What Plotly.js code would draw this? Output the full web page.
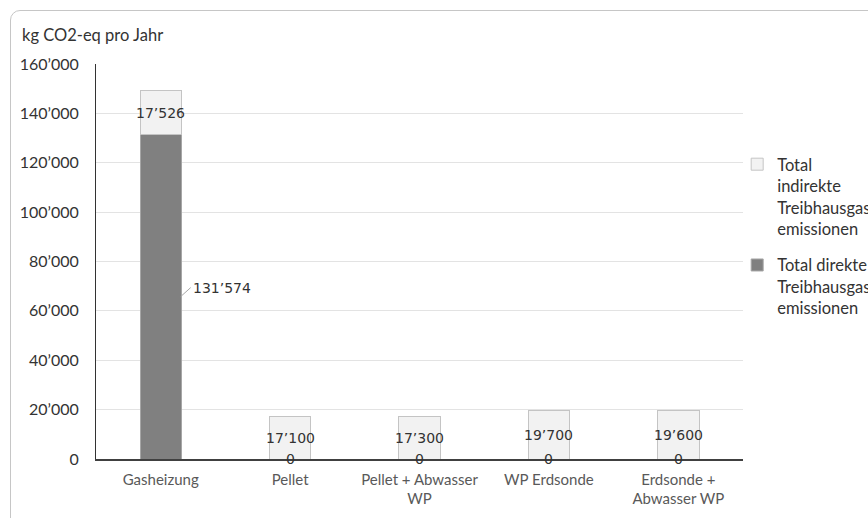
<!DOCTYPE html>
<html><head><meta charset="utf-8">
<script src="https://cdn.plot.ly/plotly-3.0.1.min.js"></script>
<style>
html,body{margin:0;padding:0;overflow:hidden;background:#fff;width:868px;height:518px;}
#frame{position:absolute;left:10px;top:10px;width:900px;height:540px;border:1px solid #c6c6c6;border-radius:10px;}
#chart{position:absolute;left:0;top:0;width:960px;height:518px;}
</style></head>
<body>
<div id="frame"></div>
<div id="chart"></div>
<script>
const categories = ["Gasheizung", "Pellet", "Pellet + Abwasser<br>WP", "WP Erdsonde", "Erdsonde +<br>Abwasser WP"];
const direktValues = [131574, 0, 0, 0, 0];
const indirektValues = [17526, 17100, 17300, 19700, 19600];
const seriesNames = ["Total direkte<br>Treibhausgas-<br>emissionen", "Total<br>indirekte<br>Treibhausgas-<br>emissionen"];
const yTicks = [0, 20000, 40000, 60000, 80000, 100000, 120000, 140000, 160000];
const yTitle = "kg CO2-eq pro Jahr";

function fmt(v){ return String(v).replace(/\B(?=(\d{3})+(?!\d))/g, "\u2019"); }

const traces = [
  {type:"bar", name:seriesNames[0], legendgroup:"d", legendrank:2, x:categories, y:direktValues,
   marker:{color:"#808080", line:{color:"#a6a6a6", width:1}}, hoverinfo:"none"},
  {type:"bar", name:seriesNames[1], legendgroup:"i", legendrank:1, x:categories, y:indirektValues,
   marker:{color:"#f2f2f2", line:{color:"#c4c4c4", width:1}}, hoverinfo:"none"}
];

const labelFont = {family:"DejaVu Sans", size:14, color:"#333333"};
const annotations = [];
categories.forEach((c,i)=>{
  annotations.push({x:c, y:direktValues[i] + indirektValues[i]/2, xref:"x", yref:"y",
    text:fmt(indirektValues[i]), showarrow:false, font:labelFont});
  if (direktValues[i] > 0) {
    annotations.push({x:c, y:direktValues[i]/2, xref:"x", yref:"y", xshift:20,
      text:fmt(direktValues[i]), showarrow:true, arrowhead:0, arrowwidth:1, arrowcolor:"#a6a6a6",
      ax:10, ay:-9, xanchor:"left", font:labelFont});
  } else {
    annotations.push({x:c, y:direktValues[i]/2, xref:"x", yref:"y",
      text:fmt(direktValues[i]), showarrow:false, font:labelFont});
  }
});
annotations.push({xref:"paper", yref:"paper", x:-0.118, y:1.044, xanchor:"left", yanchor:"bottom",
  text:yTitle, showarrow:false, font:{family:"Lato", size:16.5, color:"#333333"}});

const layout = {
  width:960, height:518,
  margin:{l:96, r:217, t:64, b:59},
  paper_bgcolor:"rgba(0,0,0,0)", plot_bgcolor:"rgba(0,0,0,0)",
  barmode:"stack", bargap:0.68,
  showlegend:true,
  legend:{x:0.991, y:0.79, xanchor:"left", yanchor:"top", traceorder:"grouped", valign:"top",
    font:{family:"Lato", size:16.5, color:"#333333"}, itemwidth:30, tracegroupgap:12},
  xaxis:{type:"category", showline:true, linecolor:"#404040", linewidth:1.5, ticks:"",
    ticklabelstandoff:6,
    tickfont:{family:"Lato", size:15, color:"#595959"}, fixedrange:true},
  yaxis:{range:[0,160000], tickvals:yTicks, ticktext:yTicks.map(fmt),
    showline:true, linecolor:"#333333", linewidth:1, gridcolor:"#e3e3e3", gridwidth:1,
    zeroline:false, ticks:"", ticklen:0, ticklabelstandoff:13,
    tickfont:{family:"Lato", size:16, color:"#333333"},
    fixedrange:true},
  annotations:annotations
};
Plotly.newPlot("chart", traces, layout, {displayModeBar:false, staticPlot:true});
</script>
</body></html>
